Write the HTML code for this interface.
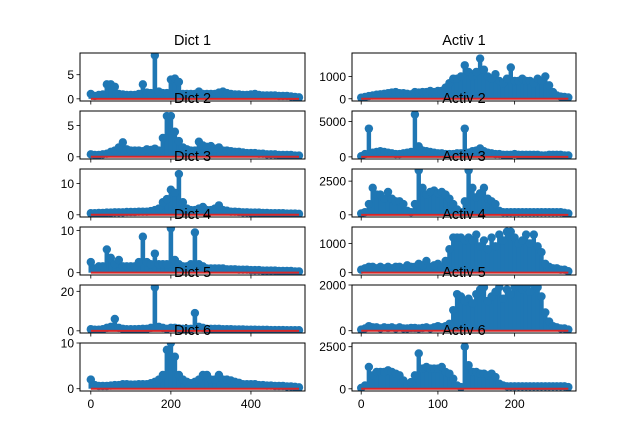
<!DOCTYPE html>
<html><head><meta charset="utf-8"><style>
html,body{margin:0;padding:0;background:#fff}
svg{display:block}
text{font-family:"Liberation Sans","DejaVu Sans",sans-serif}
</style></head><body>
<svg id="fig" width="640" height="438" viewBox="0 0 640 438"></svg>
<script>
const titlesLeft = ["Dict 1","Dict 2","Dict 3","Dict 4","Dict 5","Dict 6"];
const titlesRight = ["Activ 1","Activ 2","Activ 3","Activ 4","Activ 5","Activ 6"];
const leftStep = 10;
const rightStep = 5;
const dict1 = [1,0.6,0.8,0.9,3,3,2.5,1,0.9,0.8,0.8,0.8,1,3,1.3,1.2,9,1.5,1.2,1.2,4,4.2,3.5,1,1,1,1,1.5,1,1,1,1,1.3,1.5,1.2,1,0.9,0.9,0.8,0.8,0.9,1,0.8,0.7,0.7,0.7,0.7,0.6,0.6,0.6,0.5,0.4,0.3];
const dict2 = [0.4,0.3,0.3,0.4,0.5,0.8,1,1.5,2.3,1.2,1,1,1,0.9,1.2,1.1,1.3,1,3,6.5,6.5,4,2.5,1.5,1.2,1,1,2.4,1.8,1.6,1.7,1.3,1.5,1,1,0.9,0.8,0.8,0.7,0.6,0.6,0.6,0.5,0.5,0.4,0.4,0.4,0.3,0.3,0.3,0.3,0.2,0.2];
const dict3 = [0.5,0.5,0.6,0.6,0.7,0.7,0.8,0.8,0.8,0.9,0.9,0.9,1,1,1,1.2,1.5,2,4,5,8,7,13,4,2,1.5,1.5,2,2.5,1.5,1.5,2,3,1.5,1.3,1,1,0.9,0.8,0.8,0.7,0.7,0.7,0.6,0.6,0.5,0.5,0.5,0.5,0.4,0.4,0.4,0.3];
const dict4 = [2.5,1,1.5,1.5,5.5,3.5,2,3,1.5,1.5,1.5,1.5,2.5,8.5,2.5,2,4.5,2,2,2,10.5,3,2,1.5,1.5,2,9.5,2,1.5,1,1,1,1,1,0.8,0.8,0.8,0.7,0.7,0.7,0.6,0.6,0.6,0.5,0.5,0.5,0.5,0.4,0.4,0.4,0.4,0.3,0.3];
const dict5 = [0.8,0.6,0.6,0.8,1.5,2,6,1.5,1,0.8,0.8,0.8,0.9,1,1,1.5,22,2,1.5,1,1.5,1.5,1.2,1,1,1,9,2,1.5,1,1,1,1,0.8,0.8,0.8,0.7,0.7,0.7,0.6,0.6,0.6,0.5,0.5,0.5,0.4,0.4,0.4,0.4,0.3,0.3,0.3,0.3];
const dict6 = [2,0.8,0.6,0.6,0.6,0.7,0.8,0.8,1,1,0.9,0.9,1,1,1,1.2,1.5,2,3,8.5,10,7,3,2,1.5,1.2,1.5,2,3,3,2,2,3,2,2,1.8,1.5,1.3,1,1,1,1,0.8,0.8,0.7,0.7,0.6,0.6,0.6,0.5,0.5,0.4,0.3];
const activ1 = [50,80,120,150,180,200,220,250,280,300,250,250,220,200,300,280,300,300,350,300,350,350,500,700,900,900,1000,1500,1200,1000,1200,1800,1300,1000,900,1100,800,700,900,1400,800,800,900,800,800,700,900,800,1000,600,300,150,100,80,60];
const activ2 = [100,400,4000,600,700,800,700,600,500,400,400,500,600,700,6000,1500,900,800,700,600,500,500,400,400,400,500,500,4000,600,800,900,1200,800,600,500,400,400,300,300,300,400,300,300,300,300,300,300,200,200,300,300,300,300,200,200];
const activ3 = [100,200,800,2000,1500,1500,1200,1700,1200,1000,1000,800,300,200,800,3300,2000,1500,1700,1800,1600,1700,1500,1200,800,400,200,1000,3300,2000,1300,1600,2000,1200,1000,800,300,200,200,200,200,200,200,200,200,200,200,200,200,200,200,200,200,150,100];
const activ4 = [100,150,200,200,150,200,150,200,150,200,200,150,250,200,200,300,250,400,200,250,300,200,400,800,1200,1200,1200,1100,1200,1100,1300,900,1100,800,1200,900,1300,1100,1400,1400,1200,1000,1100,1300,1000,1300,900,700,300,200,150,150,100,100,50];
const activ5 = [50,100,200,150,150,100,150,120,150,100,150,100,100,120,120,100,120,150,100,150,200,150,200,300,900,1600,1500,1300,1400,1200,1600,1800,1900,1300,1500,1700,1900,1400,1800,1600,1900,2000,1800,1900,1700,2000,1900,1500,800,400,200,150,100,100,50];
const activ6 = [50,200,1300,800,1000,1000,1000,1100,1000,900,800,500,200,400,800,2100,1200,1300,1200,1200,1200,1300,1000,900,600,200,100,2500,1400,1000,1000,900,900,800,900,700,300,200,150,150,150,150,150,150,150,150,150,150,150,150,150,150,150,150,100];
const leftSeries = [dict1,dict2,dict3,dict4,dict5,dict6];
const rightSeries = [activ1,activ2,activ3,activ4,activ5,activ6];
const leftYLim = [[-0.45,9.5],[-0.35,7.3],[-0.7,14.6],[-0.55,10.8],[-1.1,23.2],[-0.5,10.0]];
const rightYLim = [[-100,2050],[-300,6500],[-160,3400],[-80,1560],[-100,2000],[-130,2720]];
const leftYTicks = [[0,5],[0,5],[0,10],[0,10],[0,20],[0,10]];
const rightYTicks = [[0,1000],[0,5000],[0,2500],[0,1000],[0,2000],[0,2500]];
const leftXTicks = [0,200,400];
const rightXTicks = [0,100,200];
const leftXLim = [-27,535];
const rightXLim = [-12,280];

const NS = "http://www.w3.org/2000/svg";
const svg = document.getElementById('fig');
const defs = document.createElementNS(NS,'defs');
svg.appendChild(defs);
function el(tag, attrs, parent){
  const e = document.createElementNS(NS, tag);
  for (const k in attrs) e.setAttribute(k, attrs[k]);
  (parent||svg).appendChild(e);
  return e;
}
const rowTop = [53,111,169,227,285,343];
const rowH = 48;
const cols = [{x0:80,x1:305},{x0:352,x1:576}];

function drawPanel(ci, ri, data, step, ylim, yticks, xticks, xlim, title){
  const c = cols[ci];
  const top = rowTop[ri], bot = top + rowH;
  const sx = v => c.x0 + (v - xlim[0]) / (xlim[1]-xlim[0]) * (c.x1 - c.x0);
  const sy = v => bot - (v - ylim[0]) / (ylim[1]-ylim[0]) * rowH;
  const pxStep = sx(step) - sx(0);
  const g = el('g', {});
  
  
  const cid = 'clip'+ci+'_'+ri;
  const cp = el('clipPath', {id:cid}, defs);
  el('rect', {x:c.x0, y:top, width:c.x1-c.x0, height:rowH}, cp);
  const plot = el('g', {'clip-path':'url(#'+cid+')'}, g);
  
  
  data.forEach((v,i) => {
    const x = sx(i*step);
    const ln = el('line', {x1:x, x2:x, y1:sy(0), y2:sy(v), stroke:'#1f77b4', 'stroke-width':pxStep+0.6}, plot);
    
    
  });
  data.forEach((v,i) => {
    const m = el('circle', {cx:sx(i*step), cy:sy(v), r:4.2, fill:'#1f77b4'}, plot);
    
    
  });
  const base = el('line', {x1:sx(0), x2:sx((data.length-1)*step), y1:sy(0), y2:sy(0), stroke:'#d62728', 'stroke-width':2}, plot);
  
  
  const frame = el('rect', {x:c.x0, y:top, width:c.x1-c.x0, height:rowH, fill:'none', stroke:'#000', 'stroke-width':1}, g);
  
  
  yticks.forEach(t => {
    const y = sy(t);
    el('line', {x1:c.x0-3.5, x2:c.x0, y1:y, y2:y, stroke:'#000', 'stroke-width':0.8}, g);
    const tx = el('text', {x:c.x0-6, y:y+4.5, 'font-size':'12px', 'text-anchor':'end', fill:'#000'}, g);
    tx.textContent = t;
    
    
  });
  xticks.forEach(t => {
    const x = sx(t);
    el('line', {x1:x, x2:x, y1:bot, y2:bot+3.5, stroke:'#000', 'stroke-width':0.8}, g);
    if (ri === 5) {
      const tx = el('text', {x:x, y:bot+17, 'font-size':'12px', 'text-anchor':'middle', fill:'#000'}, g);
      tx.textContent = t;
      
      
    }
  });
  const tt = el('text', {x:(c.x0+c.x1)/2, y:top-8, 'font-size':'14.5px', 'text-anchor':'middle', fill:'#000'}, g);
  tt.textContent = title;
  
  
}
for (let r=0;r<6;r++){
  drawPanel(0, r, leftSeries[r], leftStep, leftYLim[r], leftYTicks[r], leftXTicks, leftXLim, titlesLeft[r]);
  drawPanel(1, r, rightSeries[r], rightStep, rightYLim[r], rightYTicks[r], rightXTicks, rightXLim, titlesRight[r]);
}
</script>
</body></html>
